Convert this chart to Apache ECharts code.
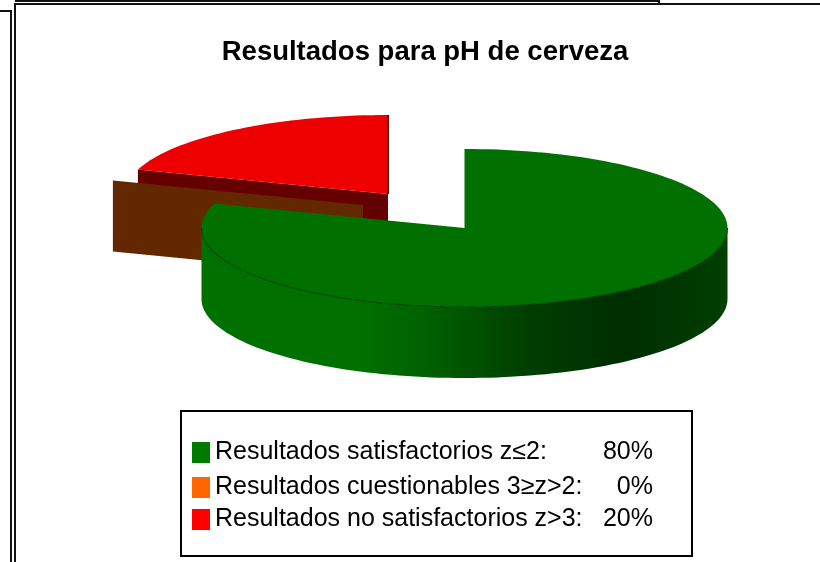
<!DOCTYPE html>
<html>
<head>
<meta charset="utf-8">
<title>Resultados para pH de cerveza</title>
<script src="https://cdn.jsdelivr.net/npm/echarts@6/dist/echarts.min.js"></script>
<style>
    html, body { margin: 0; padding: 0; background: #fff; }
    #chart { width: 820px; height: 562px; }
</style>
</head>
<body>
<div id="chart"></div>
<script>
const titleText = "Resultados para pH de cerveza";
const categories = ["Resultados satisfactorios z≤2:", "Resultados cuestionables 3≥z>2:", "Resultados no satisfactorios z>3:"];
const percents = [80, 0, 20];
const topColors = ["#007000", "#ff6600", "#ee0000"];
const wallColors = ["#004000", "#642800", "#640000"];
const legendColors = ["#007a00", "#ff6600", "#ff0000"];

// pie drawing: ellipse radii, slab depth, and where each exploded slice sits
const RX = 263, RY = 79, DEPTH = 71;
const centers = [[464.5, 228], [363, 205], [388, 194]];
const legendTops = [440, 475, 507];

// angle is clockwise from 12 o'clock, in percent of the full pie
function startOf(index) {
    return percents.slice(0, index).reduce((a, b) => a + b, 0);
}
function rim(c, pct, dy) {
    const a = pct / 100 * Math.PI * 2;
    return [c[0] + RX * Math.sin(a), c[1] - RY * Math.cos(a) + (dy || 0)];
}
function arc(c, from, to, dy) {
    const pts = [];
    const n = Math.max(2, Math.ceil(Math.abs(to - from) * 2));
    for (let i = 0; i <= n; i++) pts.push(rim(c, from + (to - from) * i / n, dy));
    return pts;
}
function radialWall(c, pct, color) {
    const p = rim(c, pct);
    return {
        type: "polygon",
        shape: { points: [p, c, [c[0], c[1] + DEPTH], [p[0], p[1] + DEPTH]] },
        style: { fill: color }
    };
}

function renderSlice(index) {
    return function (params, api) {
        const from = startOf(index);
        const to = from + api.value(0);
        const c = centers[index];
        const children = [];
        // front of the pie rim, only the part between 3 and 9 o'clock shows
        const a = Math.max(from, 25), b = Math.min(to, 75);
        if (b > a) {
            children.push({
                type: "polygon",
                shape: { points: arc(c, a, b).concat(arc(c, b, a, DEPTH)) },
                style: {
                    fill: new echarts.graphic.LinearGradient(0, 0, 1, 0, [
                        { offset: 0, color: "#007000" },
                        { offset: 0.3, color: "#007000" },
                        { offset: 0.42, color: "#006200" },
                        { offset: 0.61, color: "#004000" },
                        { offset: 0.8, color: "#002d00" },
                        { offset: 1, color: "#004000" }
                    ])
                }
            });
        }
        if (index > 0) {
            children.push(radialWall(c, from, wallColors[index]));
        }
        if (to > from) {
            children.push({
                type: "polygon",
                shape: { points: [c].concat(arc(c, from, to)) },
                style: { fill: topColors[index] }
            });
        }
        if (b > a) {
            children.push({
                type: "polyline",
                shape: { points: arc(c, a, b) },
                style: { stroke: wallColors[index], fill: null, lineWidth: 1 }
            });
        }
        if (index === 2) {
            children.push({
                type: "line",
                shape: { x1: c[0], y1: c[1] - RY, x2: c[0], y2: c[1] },
                style: { stroke: wallColors[index], lineWidth: 2 }
            });
        }
        return { type: "group", children: children };
    };
}

const chart = echarts.init(document.getElementById("chart"));
const frame = [
    [15, 1, 658, 1], [659, 0, 659, 3], [15, 4, 820, 4],
    [15, 3, 15, 562], [0, 11, 12, 11], [11, 10, 11, 562]
];
const option = {
    animation: false,
    title: {
        text: titleText,
        left: 420,
        top: 33,
        textAlign: "center",
        textStyle: { fontFamily: "Liberation Sans", fontSize: 27.5, fontWeight: "bold", color: "#000" }
    },
    legend: categories.map((name, i) => ({
        data: [{ name: name, itemStyle: { color: legendColors[i] } }],
        orient: "vertical",
        left: 192,
        top: legendTops[i],
        padding: 0,
        icon: "rect",
        itemWidth: 18,
        itemHeight: 21,
        selectedMode: false,
        formatter: n => "{n|" + n + "}{v|" + percents[categories.indexOf(n)] + "%}",
        textStyle: {
            rich: {
                n: { fontFamily: "Liberation Sans", fontSize: 25, color: "#000", width: 388, height: 21 },
                v: { fontFamily: "Liberation Sans", fontSize: 25, color: "#000", width: 50, height: 21, align: "right" }
            }
        }
    })),
    graphic: [
        { type: "rect", shape: { x: 181, y: 411, width: 511, height: 145 }, style: { fill: "#fff", stroke: "#000", lineWidth: 2 }, z: 0 }
    ].concat(frame.map(f => ({
        type: "line",
        shape: { x1: f[0], y1: f[1], x2: f[2], y2: f[3] },
        style: { stroke: "#111", lineWidth: 2 }
    }))),
    // drawn back to front: red, then the empty orange slice, then green
    series: [2, 1, 0].map(i => ({
        type: "custom",
        name: categories[i],
        coordinateSystem: "none",
        data: [[percents[i]]],
        itemStyle: { color: legendColors[i] },
        renderItem: renderSlice(i)
    }))
};
chart.setOption(option);
</script>
</body>
</html>
